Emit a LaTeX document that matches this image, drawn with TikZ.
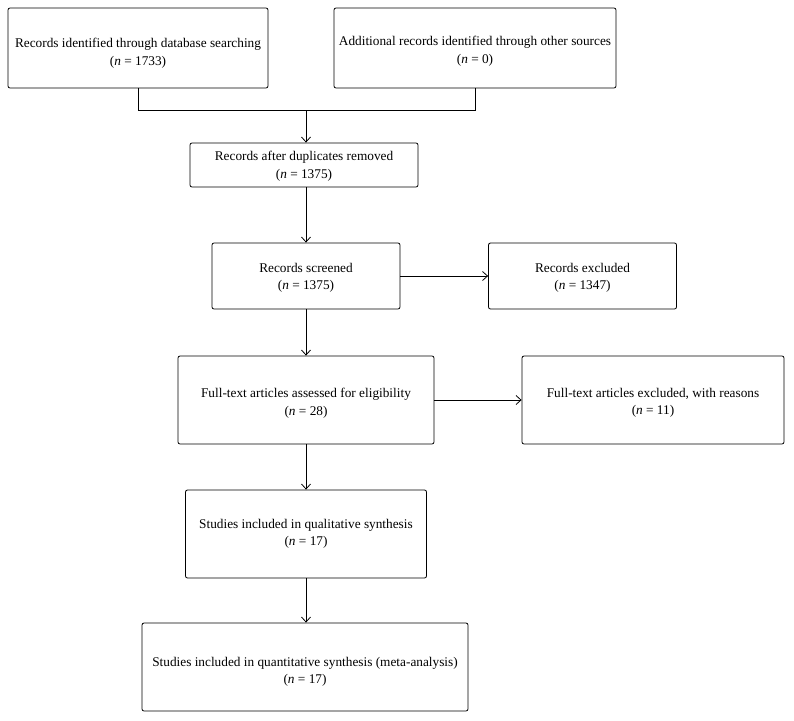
\documentclass[tikz,border=0pt]{standalone}
\usepackage{fontspec}
\setmainfont{Liberation Serif}
\usetikzlibrary{arrows.meta}
\begin{document}
\begin{tikzpicture}[x=1pt,y=-1pt,
  box/.style={draw=black,line width=0.8pt,rounded corners=2pt,inner sep=0pt},
  txt/.style={inner sep=0pt,align=center,font=\fontsize{13.3}{17.5}\selectfont},
  conn/.style={draw=black,line width=0.8pt},
  arr/.style={conn,-{Straight Barb[length=5pt,width=9pt,line width=0.8pt]}}]
\useasboundingbox (0,0) rectangle (794,720);
\node[box,minimum width=260pt,minimum height=80pt] (b1) at (138,48) {};
\node[box,minimum width=282pt,minimum height=80pt] (b2) at (475,48) {};
\node[box,minimum width=228pt,minimum height=44pt] (b3) at (304,165) {};
\node[box,minimum width=188pt,minimum height=66pt] (b4) at (306,276) {};
\node[box,minimum width=188pt,minimum height=66pt] (b5) at (582.5,276) {};
\node[box,minimum width=256pt,minimum height=88pt] (b6) at (306,400) {};
\node[box,minimum width=262pt,minimum height=88pt] (b7) at (653,400) {};
\node[box,minimum width=241pt,minimum height=88pt] (b8) at (306,534) {};
\node[box,minimum width=326pt,minimum height=88pt] (b9) at (305,667) {};
\node[txt] (t1) at ([yshift=-5pt]b1.center)
  {Records identified through database searching\\(\textit{n} = 1733)};
\node[txt] (t2) at ([yshift=-3pt]b2.center)
  {Additional records identified through other sources\\(\textit{n} = 0)};
\node[txt] (t3) at ([yshift=-1pt]b3.center)
  {Records after duplicates removed\\(\textit{n} = 1375)};
\node[txt] (t4) at ([yshift=-2pt]b4.center)
  {Records screened\\(\textit{n} = 1375)};
\node[txt] (t5) at ([yshift=-2pt]b5.center)
  {Records excluded\\(\textit{n} = 1347)};
\node[txt] (t6) at ([yshift=-3pt]b6.center)
  {Full-text articles assessed for eligibility\\(\textit{n} = 28)};
\node[txt] (t7) at ([yshift=-3pt]b7.center)
  {Full-text articles excluded, with reasons\\(\textit{n} = 11)};
\node[txt] (t8) at ([yshift=0pt]b8.center)
  {Studies included in qualitative synthesis\\(\textit{n} = 17)};
\node[txt] (t9) at ([yshift=-5pt]b9.center)
  {Studies included in quantitative synthesis (meta-analysis)\\(\textit{n} = 17)};
\coordinate (j1) at (138,110);
\coordinate (j2) at (475,110);
\coordinate (jm) at (306,110);
\draw[conn] (b1.south) -- (j1) -- (j2) -- (b2.south);
\draw[arr] (jm) -- (jm |- b3.north);
\draw[arr] (b4.north |- b3.south) -- (b4.north);
\draw[arr] (b4.east) -- (b5.west);
\draw[arr] (b4.south) -- (b6.north);
\draw[arr] (b6.east) -- (b7.west);
\draw[arr] (b6.south) -- (b8.north);
\draw[arr] (b8.south -| b6.south) -- (b9.north -| b6.south);
\end{tikzpicture}
\end{document}
